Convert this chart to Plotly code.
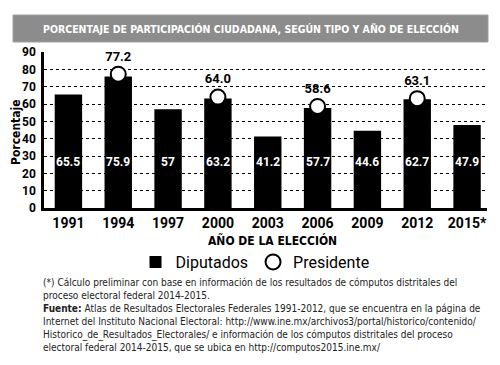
import plotly.graph_objects as go

years = ["1991", "1994", "1997", "2000", "2003", "2006", "2009", "2012", "2015*"]
diputados = [65.5, 75.9, 57, 63.2, 41.2, 57.7, 44.6, 62.7, 47.9]
diputados_labels = ["65.5", "75.9", "57", "63.2", "41.2", "57.7", "44.6", "62.7", "47.9"]
pres_years = ["1994", "2000", "2006", "2012"]
presidente = [77.2, 64.0, 58.6, 63.1]
presidente_labels = ["77.2", "64.0", "58.6", "63.1"]
y_ticks = [0, 10, 20, 30, 40, 50, 60, 70, 80, 90]

W, H = 500, 365
L, R, T, B = 44, 13, 52, 157
pw, ph = W - L - R, H - T - B

def px(x):
    return (x - L) / pw

def py(y):
    return (H - B - y) / ph

COND = "Liberation Sans Narrow, DejaVu Sans Condensed, Arial Narrow, sans-serif"
BOLD = "Roboto"

fig = go.Figure()
fig.add_trace(go.Bar(
    x=years, y=diputados, name="Diputados",
    marker=dict(color="black", line=dict(width=0)),
    hoverinfo="x+y",
))
fig.add_trace(go.Scatter(
    x=pres_years, y=presidente, name="Presidente", mode="markers+text",
    marker=dict(size=15, color="white", line=dict(color="black", width=2)),
    text=presidente_labels, textposition="top center",
    textfont=dict(family=BOLD, size=13, color="black", weight="bold"),
    cliponaxis=False,
))

# value labels inside bars (category index positions)
for i, lab in enumerate(diputados_labels):
    fig.add_annotation(x=i, y=26.5, xref="x", yref="y", text=lab, showarrow=False,
                       font=dict(family=BOLD, size=12, color="white", weight="bold"))

# title bar
fig.add_shape(type="rect", xref="paper", yref="paper", x0=px(13), x1=px(488),
              y0=py(42), y1=py(15), fillcolor="#8c8c8c", line=dict(color="#a0a0a0", width=1),
              layer="below")
fig.add_annotation(xref="paper", yref="paper", x=px(251), y=py(29), xanchor="center", yanchor="middle",
                   text="PORCENTAJE DE PARTICIPACIÓN CIUDADANA, SEGÚN TIPO Y AÑO DE ELECCIÓN",
                   showarrow=False, font=dict(family=COND, size=10.5, color="white", weight="bold"))

# axis titles
fig.add_annotation(xref="paper", yref="paper", x=px(272), y=py(240), xanchor="center", yanchor="middle",
                   text="AÑO DE LA ELECCIÓN", showarrow=False,
                   font=dict(family=COND, size=12, color="black", weight="bold"))
fig.add_annotation(xref="paper", yref="paper", x=px(16), y=py(132), xanchor="center", yanchor="middle",
                   text="Porcentaje", textangle=-90, showarrow=False,
                   font=dict(family=COND, size=12, color="black", weight="bold"))

# footnote
foot = ("(*) Cálculo preliminar con base en información de los resultados de cómputos distritales del<br>"
        "proceso electoral federal 2014-2015.<br>"
        "<b>Fuente:</b> Atlas de Resultados Electorales Federales 1991-2012, que se encuentra en la página de<br>"
        "Internet del Instituto Nacional Electoral: http://www.ine.mx/archivos3/portal/historico/contenido/<br>"
        "Historico_de_Resultados_Electorales/ e información de los cómputos distritales del proceso<br>"
        "electoral federal 2014-2015, que se ubica en http://computos2015.ine.mx/")
fig.add_annotation(xref="paper", yref="paper", x=px(41), y=py(275), xanchor="left", yanchor="top",
                   align="left", text=foot, showarrow=False,
                   font=dict(family=COND, size=10, color="#222222"))

fig.update_layout(
    width=W, height=H, margin=dict(l=L, r=R, t=T, b=B),
    paper_bgcolor="white", plot_bgcolor="white",
    bargap=0.45, showlegend=True,
    legend=dict(orientation="h", x=px(255), xanchor="center", y=py(262), yanchor="middle",
                font=dict(family="Roboto", size=16, color="black"), itemwidth=30,
                traceorder="normal"),
    xaxis=dict(type="category", range=[-0.49, 8.4], showline=True, linecolor="black", linewidth=3,
               ticks="", tickfont=dict(family=BOLD, size=14, color="black", weight="bold"),
               showgrid=False, zeroline=False, fixedrange=True),
    yaxis=dict(range=[0, 90], tickvals=y_ticks, showline=True, linecolor="black", linewidth=2.5,
               ticks="", tickfont=dict(family=BOLD, size=12, color="black", weight="bold"),
               showgrid=True, gridcolor="black", griddash="dot", gridwidth=1,
               zeroline=False, ticklabelstandoff=3, fixedrange=True),
)

fig.write_html("out.html", config={"displayModeBar": False},
               post_script="document.body.style.margin='0';document.body.style.padding='0';")
